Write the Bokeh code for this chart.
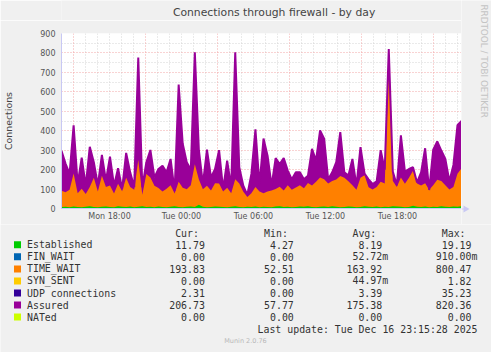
import numpy as np
from bokeh.plotting import figure
from bokeh.layouts import column, row
from bokeh.models import Range1d, FixedTicker, Grid
from bokeh.core.properties import value
from bokeh.embed import file_html
from bokeh.resources import INLINE

# ---------------- data ----------------
start_hour = 14.0          # Mon 14:00 (hours since Mon 00:00)
end_hour = 47.333          # Tue 23:20

assured = [297, 231, 178, 428, 126, 262, 117, 317, 238, 120, 276, 143, 267, 117, 207, 100, 286, 186, 110, 777, 110, 238, 301, 160, 203,
           220, 186, 255, 90, 638, 333, 238, 200, 803, 300, 126, 303, 160, 203, 300, 100, 246, 110, 803, 212, 117, 70, 178, 407, 120,
           360, 272, 117, 259, 229, 259, 195, 150, 186, 186, 150, 169, 307, 247, 402, 359, 150, 186, 238, 393, 186, 169, 255, 117, 316,
           180, 150, 126, 140, 300, 200, 820, 190, 120, 376, 190, 203, 212, 134, 186, 310, 95, 303, 345, 298, 255, 140, 224, 428, 450]

time_wait = [83, 75, 90, 170, 70, 95, 65, 100, 150, 80, 160, 100, 110, 70, 115, 80, 150, 100, 90, 240, 60, 170, 150, 110, 95,
             80, 95, 110, 65, 130, 100, 90, 110, 220, 130, 90, 110, 85, 120, 120, 80, 100, 70, 140, 120, 80, 50, 70, 100, 80,
             70, 80, 85, 90, 100, 85, 110, 90, 100, 110, 95, 120, 110, 130, 150, 140, 120, 130, 140, 160, 150, 130, 110, 90, 150,
             160, 100, 90, 100, 130, 120, 720, 130, 100, 150, 120, 150, 180, 120, 110, 120, 90, 110, 140, 130, 110, 90, 100, 170, 195]

established = [8, 9, 7, 10, 8, 6, 9, 11, 8, 7, 9, 10, 8, 7, 12, 9, 8, 10, 7, 9, 11, 8, 9, 7, 10,
               8, 6, 9, 12, 8, 7, 9, 10, 8, 19, 9, 7, 8, 10, 9, 8, 7, 9, 11, 8, 6, 9, 8, 10, 7,
               9, 8, 7, 10, 12, 8, 9, 7, 8, 10, 9, 11, 8, 7, 9, 10, 8, 12, 9, 7, 8, 10, 9, 7, 8,
               11, 9, 8, 10, 7, 9, 8, 12, 10, 9, 7, 8, 14, 9, 8, 10, 7, 9, 8, 11, 9, 8, 10, 9, 12]

tick_hours = [18, 24, 30, 36, 42]
tick_labels = ["Mon 18:00", "Tue 00:00", "Tue 06:00", "Tue 12:00", "Tue 18:00"]
major_grid_hours = [15, 21, 27, 33, 39, 45]
minor_grid_hours = [h for h in range(14, 48) if h not in major_grid_hours]
y_ticks = [0, 100, 200, 300, 400, 500, 600, 700, 800, 900]
y_minor = [50, 150, 250, 350, 450, 550, 650, 750, 850]

series_names = ["Established", "FIN_WAIT", "TIME_WAIT", "SYN_SENT", "UDP connections", "Assured", "NATed"]
series_colors = ["#00CC00", "#0066B3", "#FF8000", "#FFCC00", "#330099", "#990099", "#CCFF00"]
cur_vals = ["11.79", "0.00", "193.83", "0.00", "2.31", "206.73", "0.00"]
min_vals = ["4.27", "0.00", "52.51", "0.00", "0.00", "57.77", "0.00"]
avg_vals = ["8.19", "52.72m", "163.92", "44.97m", "3.39", "175.38", "0.00"]
max_vals = ["19.19", "910.00m", "800.47", "1.82", "35.23", "820.36", "0.00"]
col_heads = ["Cur:", "Min:", "Avg:", "Max:"]

title_text = "Connections through firewall - by day"
y_label = "Connections"
last_update = "Last update: Tue Dec 16 23:15:28 2025"
munin_ver = "Munin 2.0.76"
side_text = "RRDTOOL / TOBI OETIKER"

# ---------------- geometry ----------------
W, H = 491, 352
FL, FR, FT, FB = 61, 461, 33, 208  # frame pixel edges (absolute)
TOP_H = 20                         # title strip height
MAIN_H = 224 - TOP_H               # main chart canvas height
LEG_H = H - 224
YMAX = 900
BG = "#F0F0F0"
text_col = "#555555"
axis_col = "#C8C8F4"


def strip(w, h, x0, y0):
    """A plain figure whose data coordinates are absolute canvas pixels."""
    f = figure(width=w, height=h, output_backend="svg", toolbar_location=None,
               x_range=Range1d(x0, x0 + w), y_range=Range1d(y0 + h, y0),
               min_border=0, min_border_left=0, min_border_right=0, min_border_top=0, min_border_bottom=0)
    f.border_fill_color = BG
    f.background_fill_color = BG
    f.outline_line_color = None
    f.axis.visible = False
    f.grid.visible = False
    return f


# ---------------- title strip ----------------
top = strip(FR, TOP_H, 0, 0)
top.text(x=[245.0], y=[11.5], text=[title_text], text_font=value("DejaVu Sans"), text_font_size=value("10.8px"),
         text_color="#444444", text_align="center", text_baseline="middle")

# ---------------- side strip ----------------
side = strip(W - FR, 224, FR, 0)
side.text(x=[483.5], y=[4.0], text=[side_text], text_font=value("DejaVu Sans"), text_font_size=value("8.8px"),
          text_color="#C4C4C4", text_align="left", text_baseline="middle", angle=-np.pi / 2)
# x-axis arrow head continuing the axis line past the frame
side.segment(x0=[FR], y0=[FB + 0.5], x1=[464], y1=[FB + 0.5], line_color=axis_col, line_width=1)
side.scatter(x=[465], y=[FB + 0.5], marker="triangle", size=7, angle=-np.pi / 2,
             fill_color=axis_col, line_color=None)

# ---------------- main chart ----------------
p = figure(width=FR, height=MAIN_H, output_backend="svg", toolbar_location=None,
           x_range=Range1d(start_hour, end_hour), y_range=Range1d(0, YMAX),
           min_border_left=FL, min_border_right=0, min_border_top=FT - TOP_H, min_border_bottom=224 - FB,
           frame_width=FR - FL, frame_height=FB - FT)
p.border_fill_color = BG
p.background_fill_color = "#FFFFFF"
p.outline_line_color = None
p.xgrid.visible = False
p.ygrid.visible = False

grid_gray = "#D4D4D4"
grid_red = "#F2A6A6"
p.add_layout(Grid(dimension=0, ticker=FixedTicker(ticks=minor_grid_hours), grid_line_color=grid_gray, grid_line_dash="1 2"))
p.add_layout(Grid(dimension=1, ticker=FixedTicker(ticks=y_minor), grid_line_color=grid_gray, grid_line_dash="1 2"))
p.add_layout(Grid(dimension=0, ticker=FixedTicker(ticks=major_grid_hours), grid_line_color=grid_red, grid_line_dash="1 2"))
p.add_layout(Grid(dimension=1, ticker=FixedTicker(ticks=y_ticks), grid_line_color=grid_red, grid_line_dash="1 2"))

n = len(assured)
t = np.linspace(start_hour, end_hour, n)
est = np.array(established, dtype=float)
tw_top = est + np.array(time_wait, dtype=float)
ass = np.array(assured, dtype=float)

p.varea(x=t, y1=0, y2=ass, fill_color="#990099")
p.varea(x=t, y1=0, y2=tw_top, fill_color="#FF8000")
p.varea(x=t, y1=0, y2=est, fill_color="#00CC00")
p.line(x=t, y=ass, line_color="#990099", line_width=2)

p.xaxis.ticker = FixedTicker(ticks=tick_hours)
p.xaxis.major_label_overrides = {h: s for h, s in zip(tick_hours, tick_labels)}
p.yaxis.ticker = FixedTicker(ticks=y_ticks)
for ax in (p.xaxis, p.yaxis):
    ax.axis_line_color = axis_col
    ax.major_tick_line_color = None
    ax.minor_tick_line_color = None
    ax.major_tick_out = 0
    ax.major_tick_in = 0
    ax.minor_tick_out = 0
    ax.minor_tick_in = 0
    ax.major_label_text_font = "DejaVu Sans"
    ax.major_label_text_font_size = "8px"
    ax.major_label_text_color = text_col
p.xaxis.major_label_standoff = 3
p.yaxis.major_label_standoff = 6
p.yaxis.axis_label = y_label
p.yaxis.axis_label_text_font = "DejaVu Sans"
p.yaxis.axis_label_text_font_size = "9.4px"
p.yaxis.axis_label_text_font_style = "normal"
p.yaxis.axis_label_text_color = "#444444"
p.yaxis.axis_label_standoff = 23

# ---------------- legend panel ----------------
q = strip(W, LEG_H, 0, 224)

mono = value("DejaVu Sans Mono")
fs = value("9.9px")
cw = 5.96
col_right = [204.4, 293.3, 381.7, 471.0]
row0, dr = 244.3, 12.05
head_y = 233.3

tx, ty, tt = [], [], []
for xr, h in zip(col_right, col_heads):
    tx.append(xr - cw); ty.append(head_y); tt.append(h)
for i in range(len(series_names)):
    y = row0 + i * dr
    for xr, vals in zip(col_right, [cur_vals, min_vals, avg_vals, max_vals]):
        v = vals[i]
        tx.append(xr + cw if v.endswith("m") else xr); ty.append(y); tt.append(v)
tx.append(477.0); ty.append(row0 + 7 * dr); tt.append(last_update)
q.text(x=tx, y=ty, text=tt, text_font=mono, text_font_size=fs, text_color="#333333",
       text_align="right", text_baseline="middle")

ny = [row0 + i * dr for i in range(len(series_names))]
q.text(x=[26.5] * len(series_names), y=ny, text=series_names, text_font=mono, text_font_size=fs,
       text_color="#333333", text_align="left", text_baseline="middle")
q.rect(x=[17.0] * len(series_names), y=ny, width=7, height=7, fill_color=series_colors, line_color=None)
q.text(x=[245.0], y=[340.0], text=[munin_ver], text_font=value("DejaVu Sans"), text_font_size=value("6.5px"),
       text_color="#B8B8B8", text_align="center", text_baseline="middle")

layout = column(row(column(top, p, spacing=0), side, spacing=0), q, spacing=0)
open("out.html", "w").write(file_html(layout, INLINE))
